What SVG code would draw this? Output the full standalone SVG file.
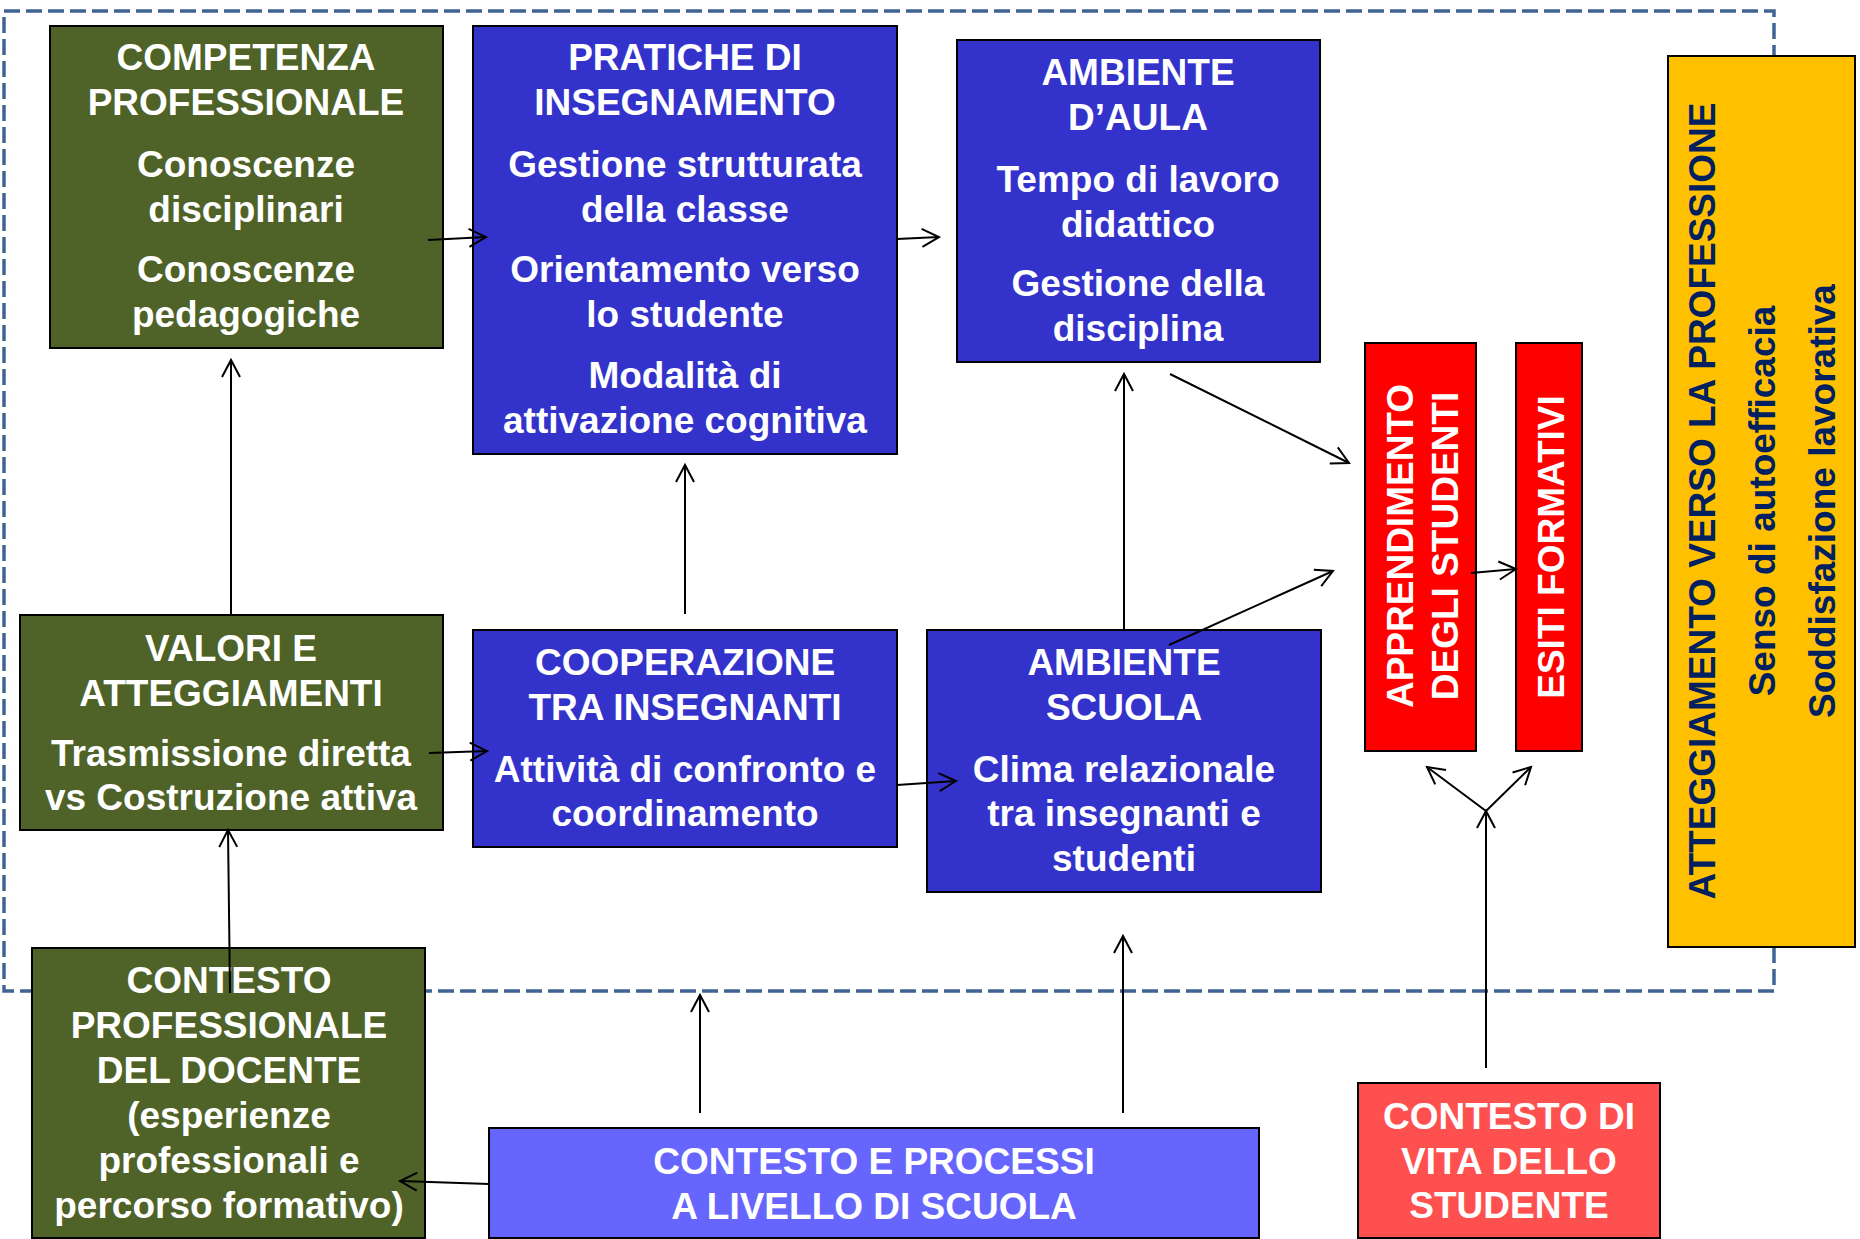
<svg xmlns="http://www.w3.org/2000/svg" width="1860" height="1239" viewBox="0 0 1860 1239">
<style>
.box{stroke:#000;stroke-width:2}
.olive{fill:#4F6228}
.blue{fill:#3333CC}
.red{fill:#FF0000}
.lred{fill:#FF5050}
.peri{fill:#6666FF}
.yel{fill:#FFC000}
text{font-family:"Liberation Sans",Arial,sans-serif;font-weight:bold;font-size:37px;fill:#fff;text-anchor:middle}
.navy{fill:#002060}
.conn line,.conn polyline{stroke:#000;stroke-width:2;fill:none;marker-end:url(#ah)}
</style>
<defs>
<marker id="ah" markerUnits="userSpaceOnUse" viewBox="-20 -12 24 24" markerWidth="24" markerHeight="24" refX="0" refY="0" orient="auto" overflow="visible">
<path d="M-17,-9 L0,0 L-17,9" fill="none" stroke="#000" stroke-width="2"/>
</marker>
</defs>
<rect x="4" y="11" width="1770" height="980" fill="none" stroke="#3F6494" stroke-width="3.5" stroke-dasharray="16 6"/>

<g id="competenza">
<rect class="box olive" x="50" y="26" width="393" height="322"/>
<text x="246" y="70">COMPETENZA</text>
<text x="246" y="115">PROFESSIONALE</text>
<text x="246" y="177">Conoscenze</text>
<text x="246" y="222">disciplinari</text>
<text x="246" y="282">Conoscenze</text>
<text x="246" y="327">pedagogiche</text>
</g>
<g id="pratiche">
<rect class="box blue" x="473" y="26" width="424" height="428"/>
<text x="685" y="70">PRATICHE DI</text>
<text x="685" y="115">INSEGNAMENTO</text>
<text x="685" y="177">Gestione strutturata</text>
<text x="685" y="222">della classe</text>
<text x="685" y="282">Orientamento verso</text>
<text x="685" y="327">lo studente</text>
<text x="685" y="388">Modalità di</text>
<text x="685" y="433">attivazione cognitiva</text>
</g>
<g id="ambiente-aula">
<rect class="box blue" x="957" y="40" width="363" height="322"/>
<text x="1138" y="85">AMBIENTE</text>
<text x="1138" y="130">D’AULA</text>
<text x="1138" y="192">Tempo di lavoro</text>
<text x="1138" y="237">didattico</text>
<text x="1138" y="296">Gestione della</text>
<text x="1138" y="341">disciplina</text>
</g>
<g id="apprendimento">
<rect class="box red" x="1365" y="343" width="111" height="408"/>
<text transform="translate(1413,546) rotate(-90)">APPRENDIMENTO</text>
<text transform="translate(1458,546) rotate(-90)">DEGLI STUDENTI</text>
</g>
<g id="esiti">
<rect class="box red" x="1516" y="343" width="66" height="408"/>
<text transform="translate(1564,547) rotate(-90)">ESITI FORMATIVI</text>
</g>
<g id="atteggiamento">
<rect class="box yel" x="1668" y="56" width="187" height="891"/>
<text class="navy" transform="translate(1715,501) rotate(-90)">ATTEGGIAMENTO VERSO LA PROFESSIONE</text>
<text class="navy" transform="translate(1775,501) rotate(-90)">Senso di autoefficacia</text>
<text class="navy" transform="translate(1835,501) rotate(-90)">Soddisfazione lavorativa</text>
</g>
<g id="valori">
<rect class="box olive" x="20" y="615" width="423" height="215"/>
<text x="231" y="661">VALORI E</text>
<text x="231" y="706">ATTEGGIAMENTI</text>
<text x="231" y="766">Trasmissione diretta</text>
<text x="231" y="810">vs Costruzione attiva</text>
</g>
<g id="cooperazione">
<rect class="box blue" x="473" y="630" width="424" height="217"/>
<text x="685" y="675">COOPERAZIONE</text>
<text x="685" y="720">TRA INSEGNANTI</text>
<text x="685" y="782">Attività di confronto e</text>
<text x="685" y="826">coordinamento</text>
</g>
<g id="ambiente-scuola">
<rect class="box blue" x="927" y="630" width="394" height="262"/>
<text x="1124" y="675">AMBIENTE</text>
<text x="1124" y="720">SCUOLA</text>
<text x="1124" y="782">Clima relazionale</text>
<text x="1124" y="826">tra insegnanti e</text>
<text x="1124" y="871">studenti</text>
</g>
<g id="contesto-professionale">
<rect class="box olive" x="32" y="948" width="393" height="290"/>
<text x="229" y="993">CONTESTO</text>
<text x="229" y="1038">PROFESSIONALE</text>
<text x="229" y="1083">DEL DOCENTE</text>
<text x="229" y="1128">(esperienze</text>
<text x="229" y="1173">professionali e</text>
<text x="229" y="1218">percorso formativo)</text>
</g>
<g id="contesto-scuola">
<rect class="box peri" x="489" y="1128" width="770" height="110"/>
<text x="874" y="1174">CONTESTO E PROCESSI</text>
<text x="874" y="1219">A LIVELLO DI SCUOLA</text>
</g>
<g id="contesto-studente">
<rect class="box lred" x="1358" y="1083" width="302" height="155"/>
<text x="1509" y="1129">CONTESTO DI</text>
<text x="1509" y="1174">VITA DELLO</text>
<text x="1509" y="1218">STUDENTE</text>
</g>

<g id="connectors" class="conn">
<line x1="428" y1="240" x2="486" y2="237"/>
<line x1="897" y1="239" x2="939" y2="237"/>
<line x1="1170" y1="374" x2="1349" y2="463"/>
<line x1="1169" y1="645" x2="1333" y2="571"/>
<line x1="1124" y1="630" x2="1124" y2="374"/>
<line x1="1471" y1="573" x2="1516" y2="569"/>
<line x1="1486" y1="1068" x2="1486" y2="811"/>
<line x1="1486" y1="811" x2="1427" y2="767"/>
<line x1="1486" y1="811" x2="1531" y2="767"/>
<line x1="231" y1="615" x2="231" y2="360"/>
<line x1="429" y1="753" x2="487" y2="751"/>
<line x1="685" y1="614" x2="685" y2="465"/>
<line x1="897" y1="785" x2="956" y2="781"/>
<line x1="230" y1="993" x2="228" y2="830"/>
<line x1="489" y1="1184" x2="400" y2="1181"/>
<line x1="700" y1="1113" x2="700" y2="995"/>
<line x1="1123" y1="1113" x2="1123" y2="936"/>
</g>
</svg>
